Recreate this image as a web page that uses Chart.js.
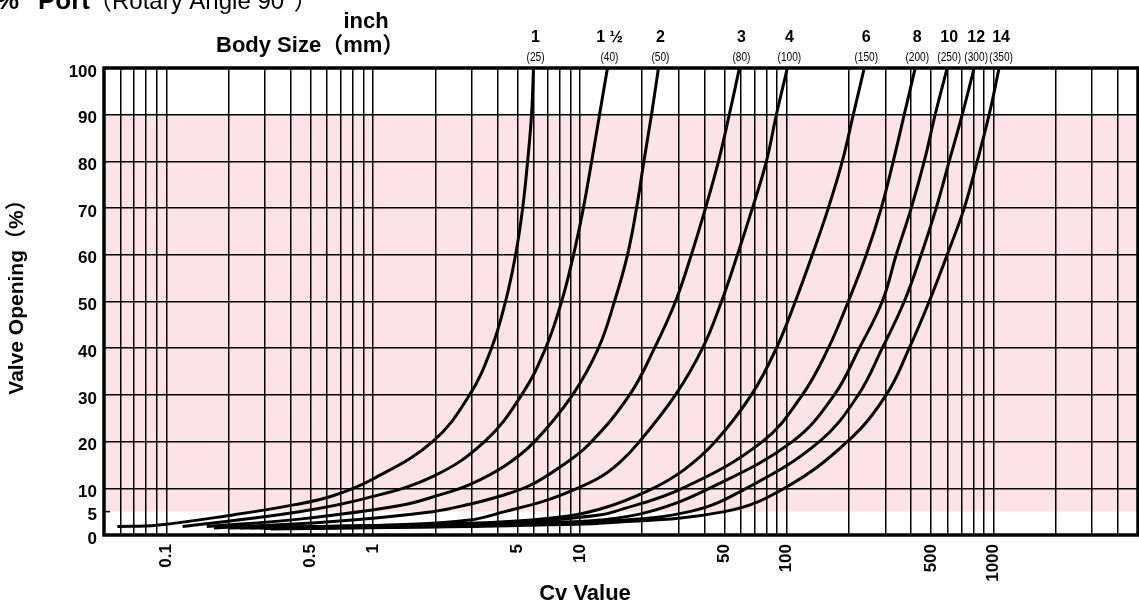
<!DOCTYPE html>
<html>
<head>
<meta charset="utf-8">
<script src="https://cdn.jsdelivr.net/npm/chart.js@4.4.1/dist/chart.umd.min.js"></script>
<style>
  html, body { margin: 0; padding: 0; background: #fff; }
  #wrap { position: relative; width: 1139px; height: 606px; }
</style>
</head>
<body>
<div id="wrap"><canvas id="cvChart"></canvas></div>
<script>
// body sizes, inch and (mm)
const sizeInch = ['1', '1 ½', '2', '3', '4', '6', '8', '10', '12', '14'];
const sizeMm = ['(25)', '(40)', '(50)', '(80)', '(100)', '(150)', '(200)', '(250)', '(300)', '(350)'];

// [Cv, valve opening %]
const curve25 = [[0.058, 1.8], [0.09, 2.1], [0.21, 4.3], [0.42, 6.5], [0.64, 8.4], [1.0, 12], [1.94, 20], [2.93, 30], [3.74, 40], [4.37, 50], [4.89, 60], [5.29, 70], [5.59, 80], [5.84, 90], [5.97, 100]];
const curve40 = [[0.12, 1.8], [0.44, 5], [0.93, 7.9], [1.94, 12.5], [3.46, 20], [5.23, 30], [6.83, 40], [8.16, 50], [9.32, 60], [10.4, 70], [11.4, 80], [12.45, 90], [13.6, 100]];
const curve50 = [[0.157, 1.8], [0.44, 3.4], [1.35, 6.3], [2.1, 8.6], [2.93, 10.8], [4.33, 14.8], [6.04, 20], [9.22, 30], [12.3, 40], [14.7, 50], [17.0, 60], [18.8, 70], [20.4, 80], [22.2, 90], [24.0, 100]];
const curve80 = [[0.17, 1.5], [0.64, 2.9], [1.94, 5], [2.93, 6.6], [4.09, 8.3], [5.72, 10.6], [7.98, 14.5], [11.1, 19.5], [17.4, 30], [22.95, 40], [29.0, 50], [34.6, 60], [40.5, 70], [46.8, 80], [52.8, 90], [59.1, 100]];
const curve100 = [[0.2, 1.5], [1.35, 2.2], [2.93, 3.2], [4.33, 5], [6.75, 7.3], [9.12, 9.5], [12.45, 12.3], [15.55, 15.5], [19.43, 20], [29.0, 30], [39.2, 40], [48.4, 50], [57.8, 60], [68.3, 70], [79.8, 80], [89.2, 90], [100.8, 100]];
const curve150 = [[0.227, 1.5], [2.93, 2.5], [7.14, 3.6], [12.45, 5.5], [21.7, 9.6], [32.0, 14], [45.2, 20], [67.5, 30], [89.2, 40], [110.1, 50], [133.1, 60], [159, 70], [185.8, 80], [210, 90], [237.3, 100]];
const curve200 = [[0.254, 1.5], [2.93, 2.3], [7.14, 3.2], [12.45, 4.3], [14.7, 5], [31.3, 10], [76.3, 20], [119.1, 30], [159, 40], [198.6, 50], [242.7, 60], [286.7, 70], [327.6, 80], [370.3, 90], [418.5, 100]];
const curve250 = [[0.284, 1.5], [2.93, 2.2], [7.14, 2.7], [12.45, 3.2], [21.7, 5], [42.3, 10], [106.5, 20], [170, 30], [224.5, 40], [289.9, 50], [338.8, 60], [400.3, 70], [462.6, 80], [522.6, 90], [597.4, 100]];
const curve300 = [[0.3, 1.4], [2.93, 1.9], [7.14, 2.4], [12.45, 2.8], [33.9, 5], [63.9, 10], [143.9, 20], [222, 30], [289.9, 40], [370.3, 50], [447.3, 60], [528.6, 70], [610.8, 80], [706.2, 90], [806.9, 100]];
const curve350 = [[0.32, 1.3], [2.93, 1.8], [7.14, 2.2], [12.45, 2.5], [50, 5], [97.5, 10], [196.5, 20], [303.1, 30], [391.5, 40], [489, 50], [597.4, 60], [722, 70], [834.3, 80], [953, 90], [1065, 100]];

const curves = [curve25, curve40, curve50, curve80, curve100, curve150, curve200, curve250, curve300, curve350];

const xMin = 0.05, xMax = 5000;
const xLabelTicks = [0.1, 0.5, 1, 5, 10, 50, 100, 500, 1000];
const yTicks = [0, 5, 10, 20, 30, 40, 50, 60, 70, 80, 90, 100];

// grid lines at 1..9 of every decade
const xGridTicks = [];
for (let e = -2; e <= 3; e++) {
  for (let m = 1; m <= 9; m++) {
    const v = Number(m + 'e' + e);
    if (v > xMin && v < xMax) xGridTicks.push(v);
  }
}

const SANS = '"Liberation Sans", Arial, "Noto Sans CJK JP", sans-serif';

const decor = {
  id: 'decor',
  beforeDraw(chart) {
    // pink band 5 - 90 %
    const {ctx, chartArea: a, scales: {y}} = chart;
    const top = y.getPixelForValue(90), bot = y.getPixelForValue(5);
    ctx.save();
    ctx.fillStyle = '#fce3ea';
    ctx.fillRect(a.left, top, a.right - a.left, bot - top);
    ctx.restore();
  },
  afterDatasetsDraw(chart) {
    const {ctx, chartArea: a, scales: {y}} = chart;
    ctx.save();
    ctx.strokeStyle = '#000';
    ctx.lineWidth = 1.5;
    const y5 = y.getPixelForValue(5);
    ctx.beginPath();
    ctx.moveTo(a.left, y5);
    ctx.lineTo(a.left + 6, y5);
    ctx.stroke();
    ctx.lineWidth = 3.5;
    ctx.strokeRect(a.left, a.top, a.right - a.left, a.bottom - a.top);
    ctx.restore();
  },
  afterDraw(chart) {
    const {ctx, scales: {x}} = chart;
    ctx.save();
    ctx.fillStyle = '#000';
    ctx.textBaseline = 'alphabetic';

    // page title, cut by the top edge
    ctx.textAlign = 'left';
    ctx.font = 'bold 26px ' + SANS;
    ctx.fillText('%', -4, 9);
    ctx.fillText('Port', 38, 9);
    ctx.font = '24px ' + SANS;
    ctx.fillText('（Rotary Angle 90°）', 88, 9);

    // header
    ctx.font = 'bold 22px ' + SANS;
    ctx.textAlign = 'center';
    ctx.fillText('inch', 366, 28);
    ctx.textAlign = 'left';
    ctx.fillText('Body Size（mm）', 216, 52);

    // size labels over each curve end
    ctx.textAlign = 'center';
    curves.forEach((c, i) => {
      const px = x.getPixelForValue(c[c.length - 1][0]) + 2;
      ctx.font = 'bold 16px ' + SANS;
      ctx.fillText(sizeInch[i], px, 42);
      // condensed mm label
      ctx.save();
      ctx.translate(px, 61);
      ctx.scale(0.78, 1);
      ctx.font = '13px ' + SANS;
      ctx.fillText(sizeMm[i], 0, 0);
      ctx.restore();
    });

    // axis titles
    ctx.font = 'bold 22px ' + SANS;
    ctx.fillText('Cv Value', 585, 600);
    ctx.translate(17, 292);
    ctx.rotate(-Math.PI / 2);
    ctx.textBaseline = 'middle';
    ctx.font = 'bold 21px ' + SANS;
    ctx.fillText('Valve Opening（%）', 0, 0);
    ctx.restore();
  }
};

new Chart('cvChart', {
  type: 'line',
  data: {
    datasets: curves.map((c, i) => ({
      label: sizeInch[i],
      data: c.map(p => ({x: p[0], y: p[1]})),
      borderColor: '#000',
      borderWidth: 3,
      pointRadius: 0,
      fill: false,
      tension: 0.4
    }))
  },
  options: {
    responsive: true,
    maintainAspectRatio: false,
    animation: false,
    layout: { padding: { top: 68, right: 1, left: 0, bottom: 0 } },
    plugins: { legend: { display: false }, tooltip: { enabled: false } },
    scales: {
      x: {
        type: 'logarithmic',
        min: xMin,
        max: xMax,
        afterBuildTicks: axis => { axis.ticks = xGridTicks.map(v => ({value: v})); },
        afterFit: axis => { axis.height = 71; axis.paddingLeft = 0; axis.paddingRight = 0; },
        ticks: {
          autoSkip: false,
          minRotation: 90,
          maxRotation: 90,
          padding: 9,
          color: '#000',
          font: { family: SANS, size: 17, weight: 'bold' },
          callback: v => xLabelTicks.includes(v) ? String(v) : ''
        },
        grid: { color: '#000', lineWidth: 1.5, drawTicks: false },
        border: { display: false }
      },
      y: {
        min: 0,
        max: 100,
        afterBuildTicks: axis => { axis.ticks = yTicks.map(v => ({value: v})); },
        afterFit: axis => { axis.width = 104; axis.paddingTop = 0; axis.paddingBottom = 0; },
        ticks: {
          autoSkip: false,
          padding: 7,
          labelOffset: 4,
          color: '#000',
          font: { family: SANS, size: 17, weight: 'bold' }
        },
        grid: {
          color: c => (c.tick && c.tick.value === 5) ? 'rgba(0,0,0,0)' : '#000',
          lineWidth: 1.5,
          drawTicks: false
        },
        border: { display: false }
      }
    }
  },
  plugins: [decor]
});
</script>
</body>
</html>
